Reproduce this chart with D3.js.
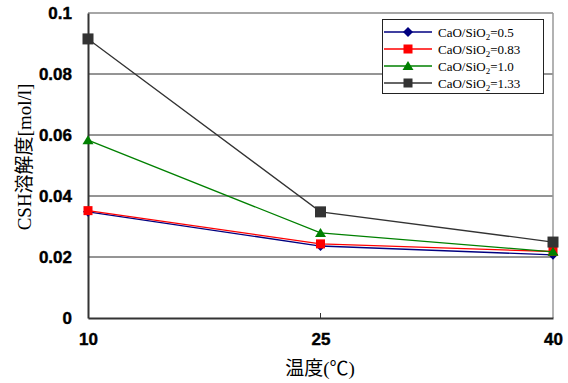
<!DOCTYPE html>
<html><head><meta charset="utf-8">
<script src="https://cdn.jsdelivr.net/npm/d3@7"></script>
<style>body{margin:0;background:#fff}svg{display:block}</style>
</head><body>
<script>
const temps = [10, 25, 40];
const ratioLabels = ["0.5", "0.83", "1.0", "1.33"];
const s05 = [0.0348, 0.0236, 0.0207];
const s083 = [0.0352, 0.0243, 0.0218];
const s10 = [0.0583, 0.0279, 0.0217];
const s133 = [0.0915, 0.0348, 0.0249];
const yTicks = [0, 0.02, 0.04, 0.06, 0.08, 0.1];
const yTickLabels = ["0", "0.02", "0.04", "0.06", "0.08", "0.1"];

const W = 568, H = 383;
const m = {l: 88, r: 15, t: 13, b: 65};
const svg = d3.select("body").append("svg").attr("width", W).attr("height", H);
const x = d3.scalePoint().domain(temps).range([m.l, W - m.r]);
const y = d3.scaleLinear().domain([0, 0.1]).range([H - m.b, m.t]);

const series = [
  {name: ratioLabels[0], vals: s05, color: "#000080", marker: "diamond"},
  {name: ratioLabels[1], vals: s083, color: "#ff0000", marker: "square"},
  {name: ratioLabels[2], vals: s10, color: "#008000", marker: "triangle"},
  {name: ratioLabels[3], vals: s133, color: "#333333", marker: "bigsquare"}
];

svg.append("g").selectAll("line").data(yTicks.filter(v => v > 0 && v < 0.1)).join("line")
  .attr("x1", m.l).attr("x2", W - m.r)
  .attr("y1", d => y(d)).attr("y2", d => y(d))
  .attr("stroke", "#2a2a2a").attr("stroke-width", 1);
svg.append("line").attr("x1", m.l).attr("x2", W - m.r).attr("y1", y(0.1)).attr("y2", y(0.1))
  .attr("stroke", "#888").attr("stroke-width", 1.5);
svg.append("line").attr("x1", W - m.r).attr("x2", W - m.r).attr("y1", y(0.1)).attr("y2", y(0))
  .attr("stroke", "#999").attr("stroke-width", 1.5);

const tickFont = "Liberation Sans, Arial, sans-serif";
const yAxis = d3.axisLeft(y).tickValues(yTicks).tickFormat((d, i) => yTickLabels[i]).tickSize(0).tickPadding(16);
const gy = svg.append("g").attr("transform", `translate(${m.l},0)`).call(yAxis);
gy.select(".domain").attr("stroke", "#333").attr("stroke-width", 2);
gy.selectAll("text").attr("font-family", tickFont).attr("font-weight", "900")
  .attr("font-size", 17).attr("fill", "#000").attr("stroke", "#000").attr("stroke-width", 0.4);

const xAxis = d3.axisBottom(x).tickSize(0).tickPadding(15);
const gx = svg.append("g").attr("transform", `translate(0,${H - m.b})`).call(xAxis);
gx.select(".domain").attr("stroke", "#333").attr("stroke-width", 2);
gx.selectAll("text").attr("font-family", tickFont).attr("font-weight", "900")
  .attr("font-size", 17).attr("fill", "#000").attr("stroke", "#000").attr("stroke-width", 0.4);
svg.append("line").attr("x1", x(25)).attr("x2", x(25)).attr("y1", y(0)).attr("y2", y(0) - 5)
  .attr("stroke", "#333").attr("stroke-width", 1);

function marker(g, type, color) {
  if (type === "diamond") g.append("path").attr("d", "M0,-5L5,0L0,5L-5,0Z").attr("fill", color);
  else if (type === "square") g.append("rect").attr("x", -4.5).attr("y", -4.5).attr("width", 9).attr("height", 9).attr("fill", color);
  else if (type === "triangle") g.append("path").attr("d", "M0,-5L5.5,4L-5.5,4Z").attr("fill", color);
  else g.append("rect").attr("x", -5.5).attr("y", -5.5).attr("width", 11).attr("height", 11).attr("fill", color);
}

const line = d3.line().x((d, i) => x(temps[i])).y(d => y(d));
series.forEach(s => {
  svg.append("path").datum(s.vals).attr("d", line).attr("fill", "none")
    .attr("stroke", s.color).attr("stroke-width", 1.3);
  s.vals.forEach((v, i) => {
    const g = svg.append("g").attr("transform", `translate(${x(temps[i])},${y(v)})`);
    marker(g, s.marker, s.color);
  });
});

const lg = svg.append("g");
lg.append("rect").attr("x", 382.5).attr("y", 19.5).attr("width", 161).attr("height", 74)
  .attr("fill", "#fff").attr("stroke", "#222").attr("stroke-width", 1);
series.forEach((s, i) => {
  const yy = 32 + i * 17;
  lg.append("line").attr("x1", 384).attr("x2", 432).attr("y1", yy).attr("y2", yy)
    .attr("stroke", s.color).attr("stroke-width", 1.3);
  const g = lg.append("g").attr("transform", `translate(408,${yy})`);
  marker(g, s.marker === "bigsquare" ? "square" : s.marker, s.color);
  const t = lg.append("text").attr("x", 438).attr("y", yy + 4.5)
    .attr("font-family", "Liberation Serif, Times New Roman, serif").attr("font-size", 13).attr("fill", "#000");
  t.append("tspan").text("CaO/SiO");
  t.append("tspan").attr("font-size", 9).attr("dy", 3).text("2");
  t.append("tspan").attr("dy", -3).text("=" + s.name);
});

svg.append("text").attr("x", 320).attr("y", 375).attr("text-anchor", "middle")
  .attr("font-family", "Liberation Serif, 'Noto Sans CJK JP', serif").attr("font-size", 19).attr("fill", "#000")
  .text("温度(℃)");
svg.append("text").attr("transform", "translate(31,157) rotate(-90)").attr("text-anchor", "middle")
  .attr("font-family", "Liberation Serif, 'Noto Sans CJK JP', serif").attr("font-size", 19).attr("fill", "#000")
  .text("CSH溶解度[mol/l]");
</script>
</body></html>
